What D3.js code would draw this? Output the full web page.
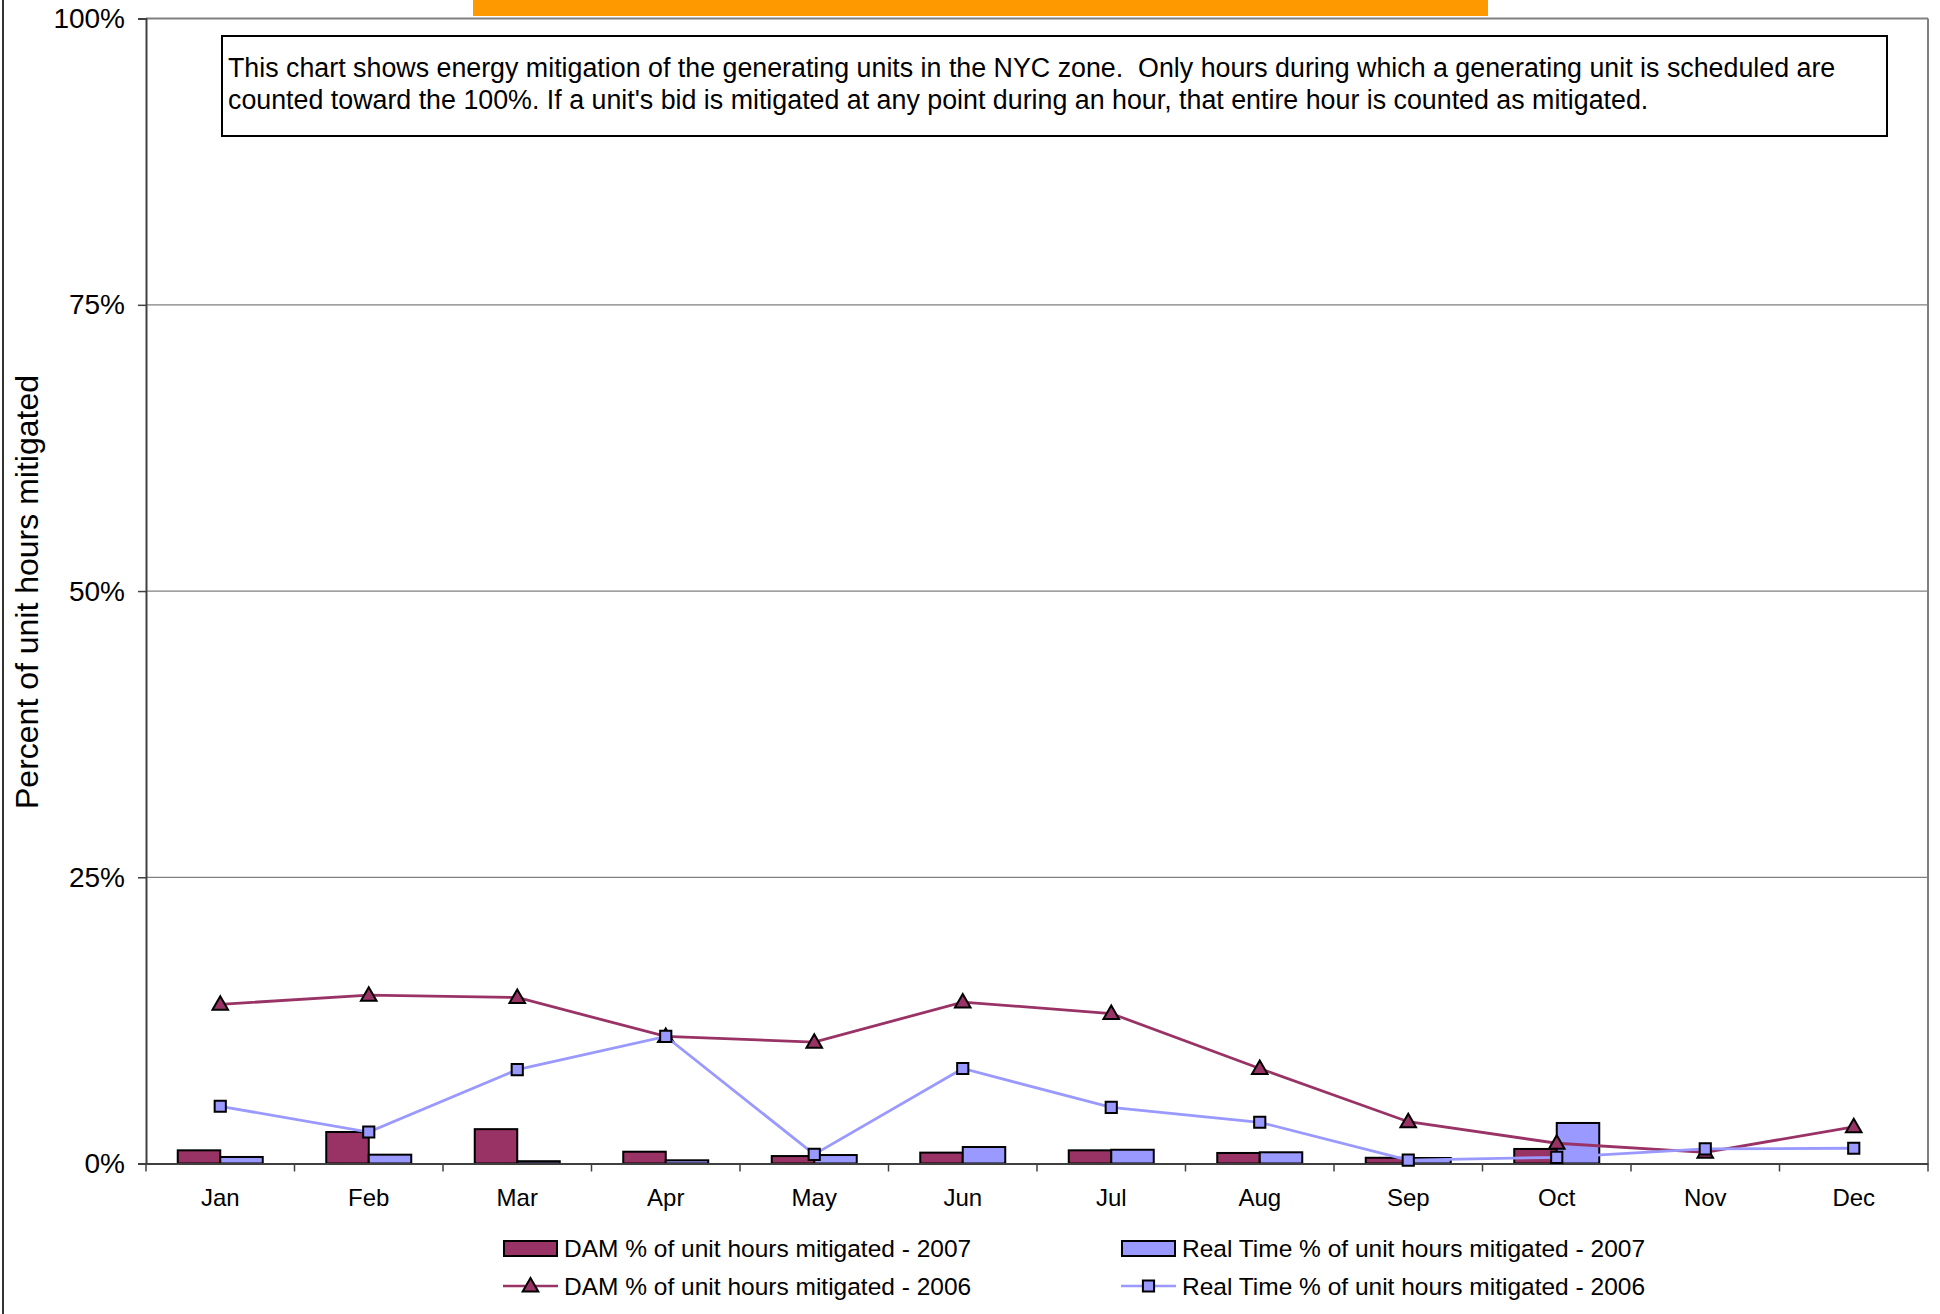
<!DOCTYPE html>
<html>
<head>
<meta charset="utf-8">
<script src="https://cdn.jsdelivr.net/npm/d3@7"></script>
<style>
  html, body { margin: 0; padding: 0; background: #fff; }
  svg { display: block; font-family: "Liberation Sans", Arial, sans-serif; }
</style>
</head>
<body>
<svg id="chart" width="1940" height="1314"></svg>
<script>
// ---- data (percent of unit hours mitigated) ----
const months = ["Jan","Feb","Mar","Apr","May","Jun","Jul","Aug","Sep","Oct","Nov","Dec"];
const dam2007 = [1.15, 2.75, 3.0, 1.03, 0.65, 0.95, 1.15, 0.92, 0.5, 1.27, null, null];
const rt2007  = [0.57, 0.77, 0.2, 0.28, 0.74, 1.44, 1.2, 0.98, 0.48, 3.54, null, null];
const dam2006 = [13.9, 14.7, 14.5, 11.1, 10.6, 14.1, 13.1, 8.3, 3.65, 1.77, 0.98, 3.2];
const rt2006  = [5.0, 2.75, 8.2, 11.1, 0.8, 8.3, 4.9, 3.6, 0.3, 0.54, 1.27, 1.33];
const yTicks = [0, 25, 50, 75, 100];
const seriesNames = [
  "DAM % of unit hours mitigated - 2007",
  "Real Time % of unit hours mitigated - 2007",
  "DAM % of unit hours mitigated - 2006",
  "Real Time % of unit hours mitigated - 2006"
];
const noteLines = [
  "This chart shows energy mitigation of the generating units in the NYC zone.  Only hours during which a generating unit is scheduled are",
  "counted toward the 100%. If a unit's bid is mitigated at any point during an hour, that entire hour is counted as mitigated."
];
const yLabel = "Percent of unit hours mitigated";

// ---- styles ----
const C_DAM = "#993366", C_RT = "#9999FF";
const svg = d3.select("#chart");
const L = 146, R = 1928, T = 18.6, B = 1163.5;

// chart outer border (left side visible)
svg.append("line").attr("x1", 3).attr("x2", 3).attr("y1", 0).attr("y2", 1314)
  .attr("stroke", "#333").attr("stroke-width", 2);

// title box (cut off at top of the picture)
svg.append("rect").attr("x", 473).attr("y", -10).attr("width", 1015).attr("height", 26).attr("fill", "#FF9900");

const x = d3.scaleBand().domain(months).range([L, R]).paddingInner(0).paddingOuter(0);
const xs = d3.scaleBand().domain(["dam","rt"]).range([0, x.bandwidth()]).paddingInner(0).paddingOuter(0.747);
const y = d3.scaleLinear().domain([0, 100]).range([B, T]);

// gridlines
svg.append("g").selectAll("line").data(yTicks.filter(d => d > 0)).join("line")
  .attr("x1", L).attr("x2", R).attr("y1", d => y(d)).attr("y2", d => y(d))
  .attr("stroke", "#808080").attr("stroke-width", d => d === 100 ? 2 : 1.2);
// right border
svg.append("line").attr("x1", R).attr("x2", R).attr("y1", T).attr("y2", B)
  .attr("stroke", "#808080").attr("stroke-width", 2);

// bars
const barData = [];
months.forEach((m, i) => {
  if (dam2007[i] != null) barData.push({m, k: "dam", v: dam2007[i]});
  if (rt2007[i] != null) barData.push({m, k: "rt", v: rt2007[i]});
});
svg.append("g").selectAll("rect").data(barData).join("rect")
  .attr("x", d => x(d.m) + xs(d.k)).attr("width", xs.bandwidth())
  .attr("y", d => y(d.v)).attr("height", d => y(0) - y(d.v))
  .attr("fill", d => d.k === "dam" ? C_DAM : C_RT)
  .attr("stroke", "#000").attr("stroke-width", 2);

// y axis
const yAxis = svg.append("g").attr("transform", `translate(${L},0)`)
  .call(d3.axisLeft(y).tickValues(yTicks).tickFormat(d => d + "%").tickSize(8).tickPadding(13));
yAxis.select(".domain").attr("stroke", "#404040").attr("stroke-width", 2);
yAxis.selectAll(".tick line").attr("stroke", "#404040").attr("stroke-width", 1.5);
yAxis.selectAll("text").attr("font-size", 28).attr("font-family", "Liberation Sans, Arial, sans-serif").attr("fill", "#000");

// x axis
const xAxis = svg.append("g").attr("transform", `translate(0,${B})`)
  .call(d3.axisBottom(x).tickSize(0).tickPadding(25.5));
xAxis.select(".domain").attr("stroke", "#404040").attr("stroke-width", 2);
xAxis.selectAll("text").attr("font-size", 24).attr("font-family", "Liberation Sans, Arial, sans-serif").attr("fill", "#000");
const bounds = months.map(m => x(m)).concat([R]);
svg.append("g").selectAll("line").data(bounds).join("line")
  .attr("x1", d => d).attr("x2", d => d).attr("y1", B).attr("y2", B + 8)
  .attr("stroke", "#404040").attr("stroke-width", 1.5);

// lines
const cx = m => x(m) + x.bandwidth() / 2;
const line = d3.line().defined(d => d[1] != null).x(d => cx(d[0])).y(d => y(d[1]));
const tri = d3.symbol().type(d3.symbolTriangle).size(105);
const sq = d3.symbol().type(d3.symbolSquare).size(125);

function drawSeries(vals, color, symbol, yOff) {
  const pts = months.map((m, i) => [m, vals[i]]);
  svg.append("path").datum(pts).attr("d", line).attr("fill", "none")
    .attr("stroke", color).attr("stroke-width", 2.8);
  svg.append("g").selectAll("path").data(pts.filter(d => d[1] != null)).join("path")
    .attr("d", symbol).attr("transform", d => `translate(${cx(d[0])},${y(d[1]) + yOff})`)
    .attr("fill", color).attr("stroke", "#000").attr("stroke-width", 2);
}
drawSeries(dam2006, C_DAM, tri, 1);
drawSeries(rt2006, C_RT, sq, 0);

// annotation box
svg.append("rect").attr("x", 222).attr("y", 36).attr("width", 1665).attr("height", 100)
  .attr("fill", "#fff").attr("stroke", "#000").attr("stroke-width", 2);
svg.append("g").selectAll("text").data(noteLines).join("text")
  .attr("x", 228).attr("y", (d, i) => 77 + i * 32)
  .attr("font-size", 26.8).attr("fill", "#000").attr("xml:space", "preserve")
  .style("white-space", "pre").text(d => d);

// y axis title
svg.append("text").attr("transform", "translate(38,592) rotate(-90)")
  .attr("text-anchor", "middle").attr("font-size", 32).attr("fill", "#000").text(yLabel);

// legend
const lg = svg.append("g");
const legendItems = [
  {name: seriesNames[0], type: "bar", color: C_DAM, x: 503, y: 1248},
  {name: seriesNames[1], type: "bar", color: C_RT, x: 1121, y: 1248},
  {name: seriesNames[2], type: "line", color: C_DAM, x: 503, y: 1286, sym: tri},
  {name: seriesNames[3], type: "line", color: C_RT, x: 1121, y: 1286, sym: sq}
];
legendItems.forEach(it => {
  const g = lg.append("g").attr("transform", `translate(${it.x},${it.y})`);
  if (it.type === "bar") {
    g.append("rect").attr("x", 1).attr("y", -7).attr("width", 53).attr("height", 15)
      .attr("fill", it.color).attr("stroke", "#000").attr("stroke-width", 2);
  } else {
    g.append("line").attr("x1", 0).attr("x2", 55).attr("y1", 0).attr("y2", 0)
      .attr("stroke", it.color).attr("stroke-width", 2.6);
    g.append("path").attr("d", it.sym).attr("transform", `translate(27.5,${it.sym === tri ? 1 : 0})`)
      .attr("fill", it.color).attr("stroke", "#000").attr("stroke-width", 2);
  }
  g.append("text").attr("x", 61).attr("y", 0).attr("dy", "0.35em")
    .attr("font-size", 24.5).attr("fill", "#000").text(it.name);
});
</script>
</body>
</html>
